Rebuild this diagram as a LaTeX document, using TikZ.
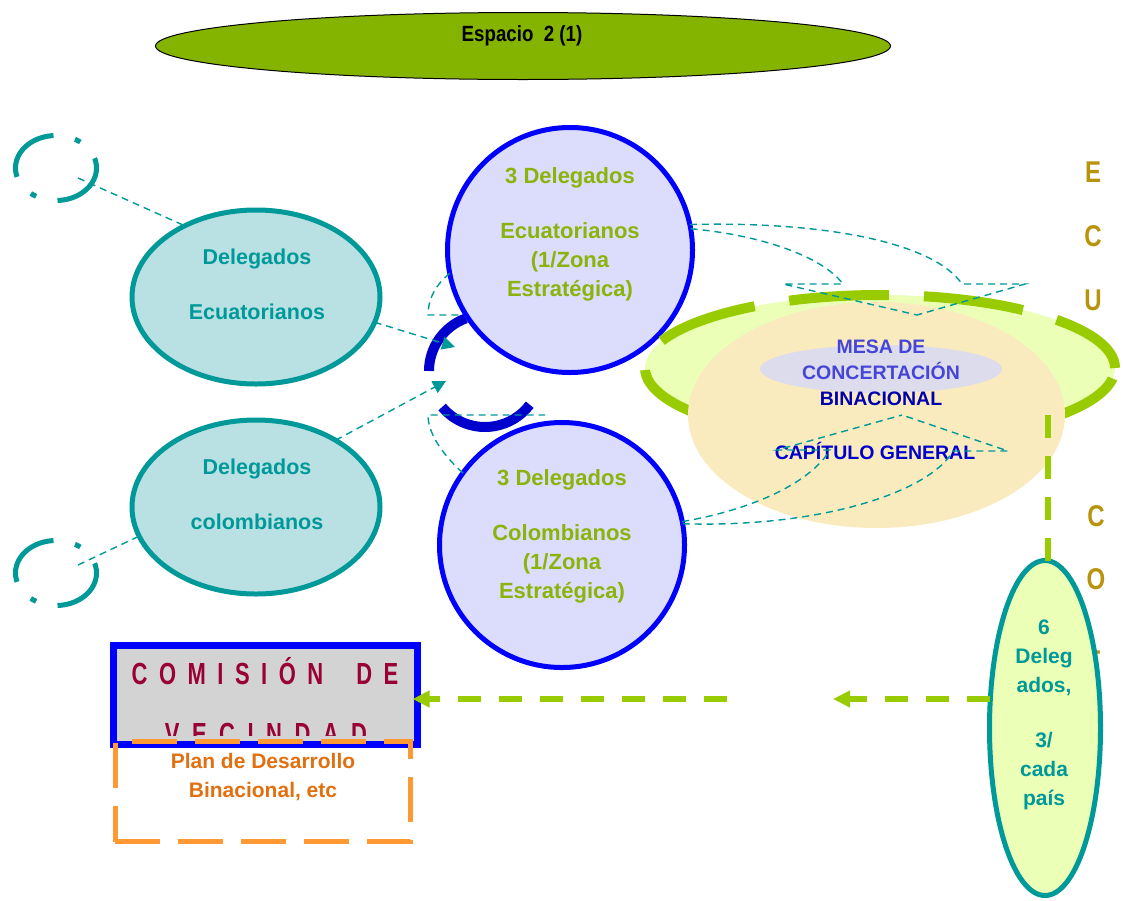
\documentclass[tikz,border=0pt]{standalone}
\usepackage{fontspec}
\setmainfont{Liberation Sans}
\newfontfamily\narrowsans[FakeStretch=0.8]{Liberation Sans}
\newfontfamily\espsans[FakeStretch=0.85]{Liberation Sans}
\newfontfamily\condsans[FakeStretch=0.72]{Liberation Sans}
\usetikzlibrary{shapes.geometric,arrows.meta}
\definecolor{topgreen}{HTML}{84B400}
\definecolor{tealc}{HTML}{009999}
\definecolor{tealfill}{HTML}{B9E0E3}
\definecolor{circfill}{HTML}{DCDCFC}
\definecolor{circblue}{HTML}{0000FF}
\definecolor{greentext}{HTML}{8AB40A}
\definecolor{arcblue}{HTML}{0000CC}
\definecolor{lgfill}{HTML}{EBFFB6}
\definecolor{lgborder}{HTML}{99CC00}
\definecolor{peach}{HTML}{F9EBBE}
\definecolor{greyell}{HTML}{DCDCEC}
\definecolor{mesablue}{HTML}{4545D8}
\definecolor{binblue}{HTML}{0000B0}
\definecolor{goldtext}{HTML}{B8940C}
\definecolor{boxgrey}{HTML}{D3D3D3}
\definecolor{redtext}{HTML}{990033}
\definecolor{orangeline}{HTML}{FF9933}
\definecolor{orangetext}{HTML}{E07010}
\newcommand\lsa{\hspace{11.5pt}}
\newcommand\lsb{\hspace{12.5pt}}
\begin{document}
\begin{tikzpicture}[x=1pt,y=-1pt,
  every node/.style={inner sep=0pt,outer sep=0pt},
  tealdash/.style={draw=tealc,line width=1.4pt,dash pattern=on 7pt off 5pt},
  tealtip/.style={-{Triangle[length=13pt,width=13pt]}},
  greenarrow/.style={draw=lgborder,line width=6pt,dash pattern=on 23pt off 18pt,-{Triangle[length=17pt,width=16pt]}},
  smallring/.style={ellipse,draw=tealc,line width=5pt,minimum width=81pt,minimum height=65pt,dash pattern=on 64pt off 22pt on 6pt off 22pt,dash phase=54pt},
  delell/.style={ellipse,draw=tealc,line width=5pt,fill=tealfill,minimum width=248pt,minimum height=174pt},
  bigcirc/.style={circle,draw=circblue,line width=5pt,fill=circfill,minimum size=245pt},
  teallab/.style={font=\bfseries\fontsize{21.5}{29}\selectfont,text=tealc,align=center},
  greenlab/.style={font=\bfseries\fontsize{22}{29}\selectfont,text=greentext,align=center},
  goldlab/.style={font=\narrowsans\bfseries\fontsize{30}{30}\selectfont,text=goldtext},
  mesalab/.style={font=\bfseries\fontsize{19.5}{26}\selectfont,align=center}
]
\useasboundingbox (0,0) rectangle (1123,900);
\fill[white] (0,0) rectangle (1123,900);

% top ellipse
\node[ellipse,draw=black,line width=1pt,fill=topgreen,minimum width=735pt,minimum height=67pt] (esp) at (523,46) {};
\node[font=\espsans\bfseries\fontsize{22}{24}\selectfont] (esptxt) at (522,36) {Espacio\ \ 2 (1)};

% small dashed rings
\node[smallring] (sc1) at (56,168) {};
\node[smallring] (sc2) at (56,573) {};

% dark blue arcs
\draw[arcblue,line width=10pt] (485,371) ++(180:56) arc[start angle=180,end angle=250,radius=56];
\draw[arcblue,line width=10pt] (485,371) ++(140:56) arc[start angle=140,end angle=37,radius=56];

% big circles
\node[bigcirc] (ce) at (570,250) {};
\node[bigcirc] (cc) at (562,545) {};
\node[greenlab] (cetxt) at (570,234) {3 Delegados\\[26pt]Ecuatorianos\\(1/Zona\\Estratégica)};
\node[greenlab] (cctxt) at (562,536) {3 Delegados\\[26pt]Colombianos\\(1/Zona\\Estratégica)};

% teal ellipses
\node[delell] (de) at (256,297) {};
\node[delell] (dc) at (256,507) {};
\node[teallab] (detxt) at (257,284) {Delegados\\[26pt]Ecuatorianos};
\node[teallab] (dctxt) at (257,494) {Delegados\\[26pt]colombianos};

% left connectors
\coordinate (s1) at (78,178);
\coordinate (s2) at (78,565);
\coordinate (tipA) at (455,347);
\coordinate (tipB) at (446,381);
\draw[tealdash] (s1) -- (de.135);
\draw[tealdash] (s2) -- (dc.194);
\draw[tealdash,tealtip] (de.-12) -- (tipA);
\draw[tealdash,tealtip] (dc.40) -- (tipB);
\draw[tealdash] (ce.191) .. controls (435,285) and (428,300) .. (428,315) -- (460,315);
\draw[tealdash] (cc.144) .. controls (440,452) and (428,432) .. (428,415) -- (545,415);

% right side ellipses
\node[ellipse,fill=lgfill,draw=lgborder,line width=10pt,minimum width=470pt,minimum height=146pt,dash pattern=on 100pt off 35pt,dash phase=20pt] (mesa) at (880,368) {};
\node[ellipse,fill=peach,minimum width=377pt,minimum height=226pt] (cap) at (876.5,415) {};
\node[ellipse,fill=greyell,minimum width=242pt,minimum height=48pt] (mesain) at (881,369) {};
\node[mesalab] (mesatxt) at (881,373) {\textcolor{mesablue}{MESA DE}\\\textcolor{mesablue}{CONCERTACIÓN}\\\textcolor{binblue}{BINACIONAL}};
\node[mesalab,text=arcblue] (captxt) at (875,451) {CAPÍTULO GENERAL};

% right curved connectors
\draw[tealdash] (ce.12) .. controls (830,221) and (935,244) .. (962,284) -- (1025,284) -- (917,315);
\draw[tealdash] (ce.10) .. controls (760,235) and (822,256) .. (843,284) -- (783,284) -- (917,315);
\draw[tealdash] (cc.11) .. controls (760,508) and (812,480) .. (830,450) -- (777,450) -- (902,415);
\draw[tealdash] (cc.10) .. controls (820,528) and (930,492) .. (953,451) -- (1008,451) -- (902,415);

% gold letters
\node[goldlab] (l1) at (1093,172) {E};
\node[goldlab] (l2) at (1093,236) {C};
\node[goldlab] (l3) at (1093,300) {U};
\node[goldlab] (l4) at (1096,516) {C};
\node[goldlab] (l5) at (1096,579) {O};
\node[goldlab] (l6) at (1093,661) {T};

% vertical green dashed line and 6 delegados ellipse
\node[ellipse,draw=tealc,line width=5pt,fill=lgfill,minimum width=111pt,minimum height=335pt] (d6) at (1045,728) {};
\coordinate (vtop) at (1048,415);
\draw[lgborder,line width=6pt,dash pattern=on 23pt off 18pt] (vtop) -- (vtop |- d6.north);
\node[font=\bfseries\fontsize{21}{29}\selectfont,text=tealc,align=center] (d6txt) at (1044,715) {6\\Deleg\\ados,\\[26pt]3/\\cada\\país};

% comision box
\node[draw=circblue,line width=7pt,fill=boxgrey,minimum width=304pt,minimum height=99pt] (box) at (265.5,695) {};
\begin{scope}
\clip (117,649) rectangle (414,735);
\node[anchor=base,font=\condsans\bfseries\fontsize{30.5}{30}\selectfont,text=redtext] (com1) at (265,684) {C\lsa O\lsa M\lsa I\lsa S\lsa I\lsa Ó\lsa N\hspace{33pt}D\lsa E};
\node[anchor=base,font=\condsans\bfseries\fontsize{30.5}{30}\selectfont,text=redtext] (com2) at (266,744) {V\lsb E\lsb C\lsb I\lsb N\lsb D\lsb A\lsb D};
\end{scope}

% plan box
\node[draw=orangeline,line width=5pt,dash pattern=on 45pt off 18pt,minimum width=295.5pt,minimum height=100.5pt] (plan) at (262.75,791.25) {};
\node[font=\bfseries\fontsize{21}{29}\selectfont,text=orangetext,align=center] (plantxt) at (263,777) {Plan de Desarrollo\\Binacional, etc};

% green arrows
\coordinate (gA) at (833,699);
\coordinate (gB) at (727,699);
\draw[greenarrow,lgborder] (d6.west |- gA) -- (gA);
\draw[greenarrow,lgborder] (gB) -- ([xshift=-5pt]box.east |- gB);
\end{tikzpicture}
\end{document}
